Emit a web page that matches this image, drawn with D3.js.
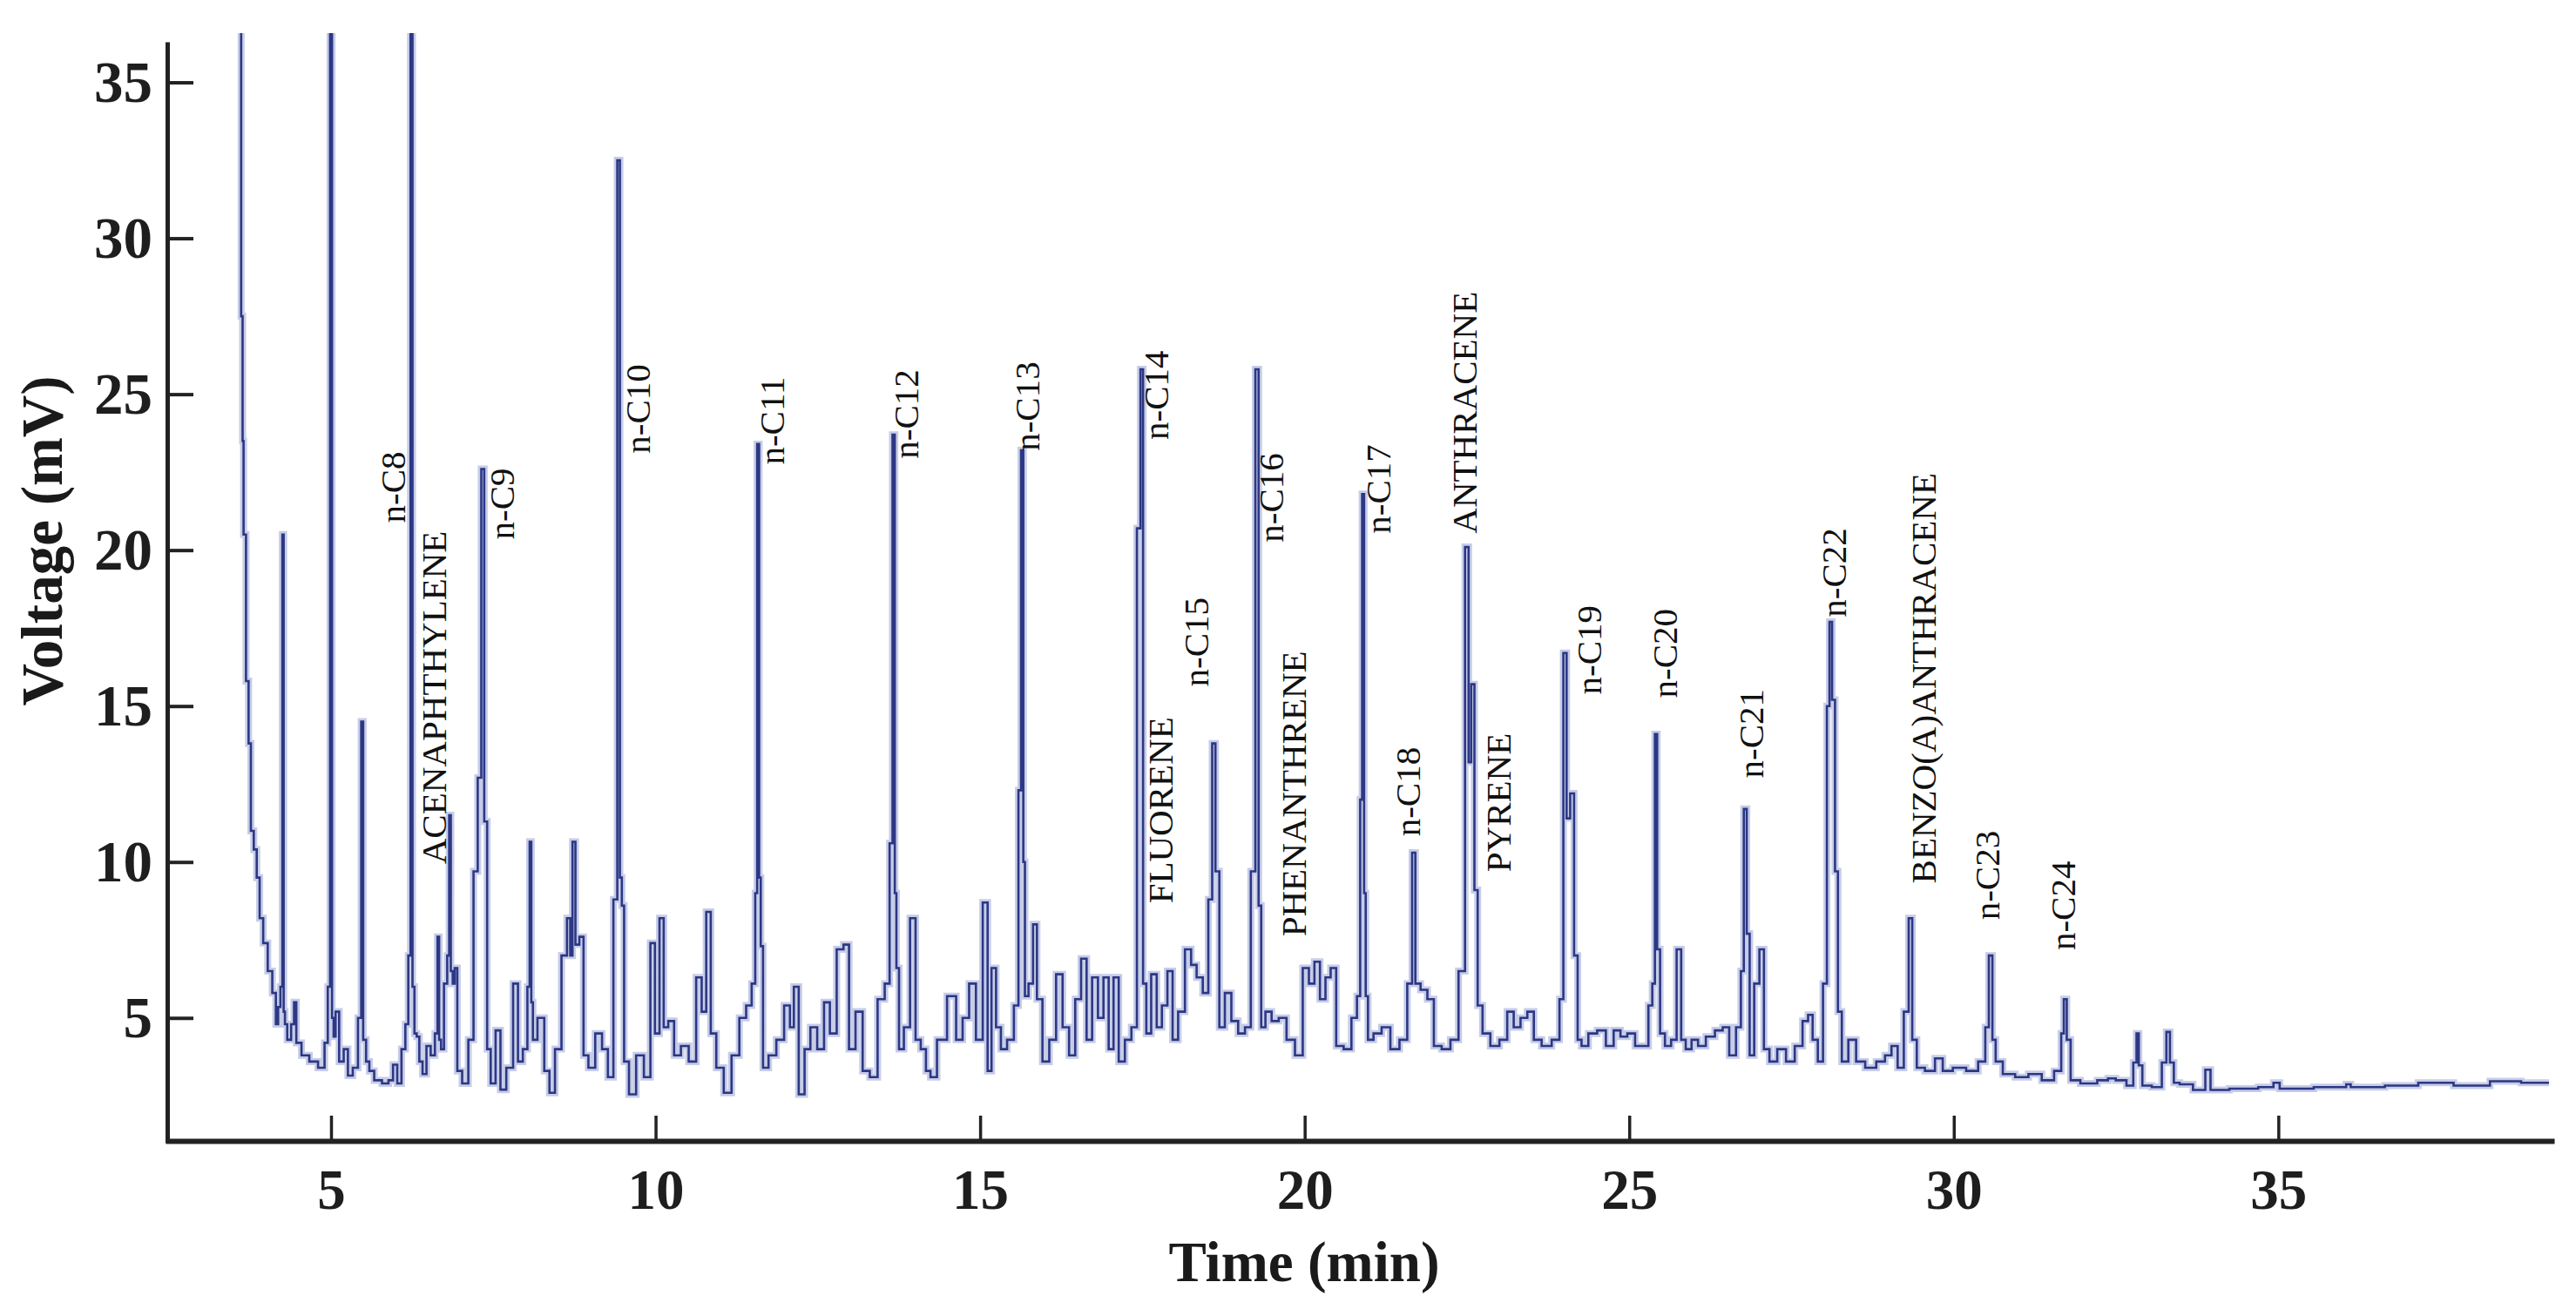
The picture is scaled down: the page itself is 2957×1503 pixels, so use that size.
<!DOCTYPE html>
<html><head><meta charset="utf-8">
<script src="https://cdn.jsdelivr.net/npm/d3@7/dist/d3.min.js"></script>
<style>html,body{margin:0;padding:0;background:#fff;}svg{display:block;}</style>
</head><body>
<svg id="chart" width="2957" height="1503"></svg>
<script>
// ---- data (time in min, voltage in mV; 40 = off scale) ----
const trace = [
[3.60,40],[3.63,27.5],[3.645,23.5],[3.66,20.5],[3.72,15.8],[3.74,13.8],[3.79,11.0],[3.83,10.4],[3.88,9.5],[3.92,8.2],[3.99,7.4],[4.06,6.5],[4.13,5.8],[4.17,4.8],[4.20,5.35],[4.24,6.0],[4.26,20.5],[4.28,5.2],[4.30,4.8],[4.35,4.3],[4.42,4.8],[4.44,5.5],[4.49,4.2],[4.60,3.8],[4.73,3.6],[4.87,3.4],[4.93,4.2],[4.97,6.0],[5.00,40],[5.03,5.0],[5.05,4.4],[5.09,5.2],[5.16,3.6],[5.23,4.0],[5.29,3.15],[5.38,3.4],[5.45,5.0],[5.48,14.5],[5.51,4.3],[5.57,3.6],[5.61,3.3],[5.72,3.0],[5.85,2.9],[5.92,3.0],[5.99,3.5],[6.05,2.9],[6.12,4.0],[6.17,4.8],[6.21,7.0],[6.24,40],[6.27,6.0],[6.30,4.5],[6.34,4.4],[6.38,3.6],[6.44,3.2],[6.50,4.1],[6.57,3.8],[6.63,4.5],[6.65,7.6],[6.68,4.3],[6.71,4.0],[6.77,6.1],[6.81,7.0],[6.83,11.5],[6.86,6.5],[6.89,6.1],[6.92,6.6],[6.97,3.3],[7.07,2.9],[7.16,4.3],[7.23,9.7],[7.29,12.7],[7.34,22.6],[7.38,11.3],[7.43,4.0],[7.49,2.9],[7.58,4.6],[7.64,2.7],[7.76,3.4],[7.85,6.1],[7.91,3.6],[8.00,4.0],[8.05,6.0],[8.07,10.65],[8.10,5.5],[8.12,4.3],[8.24,5.0],[8.33,3.3],[8.40,2.6],[8.50,4.0],[8.60,7.0],[8.67,8.2],[8.70,7.0],[8.74,10.65],[8.79,7.35],[8.86,7.6],[8.92,3.8],[9.01,3.4],[9.13,4.5],[9.22,4.0],[9.31,3.1],[9.39,8.8],[9.43,32.5],[9.47,9.5],[9.49,8.6],[9.54,3.6],[9.64,2.55],[9.76,3.8],[9.88,3.1],[9.96,7.4],[10.02,4.5],[10.10,8.2],[10.15,4.7],[10.24,4.9],[10.33,3.8],[10.45,4.1],[10.57,3.6],[10.68,6.3],[10.74,5.2],[10.82,8.4],[10.88,4.5],[10.99,3.4],[11.11,2.6],[11.23,3.8],[11.35,5.0],[11.44,5.4],[11.52,6.1],[11.55,9.0],[11.58,23.4],[11.61,9.5],[11.63,7.3],[11.68,3.4],[11.80,3.8],[11.92,4.3],[12.04,5.4],[12.10,4.7],[12.16,6.0],[12.25,2.55],[12.34,4.0],[12.43,4.7],[12.55,4.0],[12.64,5.5],[12.73,4.5],[12.85,7.2],[12.94,7.35],[13.02,4.0],[13.14,5.2],[13.24,3.3],[13.36,3.1],[13.48,5.6],[13.58,6.1],[13.63,10.6],[13.67,23.7],[13.70,9.0],[13.72,6.6],[13.78,4.0],[13.87,4.7],[13.97,8.2],[14.04,4.3],[14.13,4.0],[14.20,3.3],[14.27,3.1],[14.40,4.3],[14.58,5.7],[14.68,4.3],[14.78,5.0],[14.88,6.1],[14.99,4.3],[15.09,8.7],[15.14,3.3],[15.21,6.6],[15.28,4.7],[15.36,4.0],[15.47,4.3],[15.57,5.4],[15.61,12.3],[15.65,23.2],[15.68,10.0],[15.70,5.7],[15.79,6.1],[15.84,8.0],[15.91,5.6],[16.01,3.6],[16.12,4.3],[16.22,6.4],[16.32,4.7],[16.42,3.8],[16.51,5.6],[16.60,6.9],[16.68,4.3],[16.77,6.3],[16.86,5.0],[16.94,6.3],[17.02,4.0],[17.09,6.3],[17.18,3.6],[17.28,4.3],[17.38,4.7],[17.45,20.7],[17.49,25.8],[17.53,6.1],[17.59,4.5],[17.68,6.4],[17.76,4.7],[17.84,5.4],[17.93,6.5],[18.00,4.3],[18.10,5.2],[18.21,7.2],[18.29,6.7],[18.38,6.3],[18.48,5.8],[18.55,8.8],[18.60,13.8],[18.65,9.7],[18.72,4.7],[18.82,5.8],[18.92,4.9],[19.03,4.5],[19.13,4.7],[19.21,9.7],[19.27,25.8],[19.31,8.6],[19.35,4.7],[19.44,5.2],[19.54,4.9],[19.66,5.0],[19.78,4.3],[19.92,3.8],[20.02,6.6],[20.11,6.1],[20.19,6.8],[20.28,5.6],[20.36,6.3],[20.44,6.6],[20.53,4.1],[20.67,4.0],[20.77,5.0],[20.84,5.7],[20.87,12.0],[20.90,21.8],[20.93,9.0],[20.95,5.7],[21.00,4.3],[21.12,4.5],[21.25,4.7],[21.39,4.0],[21.53,4.3],[21.63,6.1],[21.68,10.3],[21.73,6.1],[21.84,5.9],[21.94,5.6],[22.04,4.1],[22.18,4.0],[22.31,4.3],[22.43,6.5],[22.51,20.1],[22.54,13.2],[22.59,15.7],[22.64,9.1],[22.69,5.4],[22.79,4.5],[22.93,4.1],[23.07,4.3],[23.17,5.2],[23.27,4.7],[23.38,5.0],[23.48,5.2],[23.58,4.3],[23.72,4.1],[23.89,4.3],[23.96,5.6],[24.01,16.7],[24.06,11.4],[24.12,12.2],[24.18,7.0],[24.23,4.3],[24.30,4.1],[24.44,4.5],[24.57,4.6],[24.71,4.1],[24.81,4.6],[24.92,4.4],[25.02,4.5],[25.16,4.1],[25.26,4.1],[25.33,5.4],[25.38,6.1],[25.41,14.1],[25.45,7.2],[25.50,4.5],[25.60,4.1],[25.69,4.3],[25.77,7.2],[25.83,4.3],[25.91,4.0],[26.01,4.3],[26.11,4.1],[26.25,4.4],[26.39,4.6],[26.49,4.7],[26.59,3.8],[26.70,4.7],[26.74,6.5],[26.79,11.7],[26.83,7.7],[26.88,3.8],[26.97,6.1],[27.04,7.2],[27.11,4.0],[27.21,3.6],[27.35,4.0],[27.48,3.6],[27.62,4.1],[27.72,4.9],[27.79,5.1],[27.86,4.3],[27.95,3.6],[28.02,6.1],[28.07,15.0],[28.10,17.7],[28.15,15.2],[28.19,9.7],[28.24,5.2],[28.31,3.6],[28.44,4.3],[28.55,3.6],[28.72,3.4],[28.89,3.6],[28.99,3.8],[29.09,4.1],[29.18,3.4],[29.28,5.2],[29.33,8.2],[29.39,4.3],[29.47,3.4],[29.64,3.3],[29.78,3.7],[29.88,3.3],[30.09,3.4],[30.29,3.3],[30.46,3.6],[30.51,4.7],[30.57,7.0],[30.62,4.3],[30.67,3.6],[30.84,3.2],[31.05,3.1],[31.25,3.2],[31.46,3.0],[31.63,3.3],[31.68,4.5],[31.71,5.6],[31.77,4.3],[31.83,3.0],[32.07,2.9],[32.35,3.0],[32.40,3.06],[32.59,3.0],[32.73,2.83],[32.80,3.57],[32.83,4.5],[32.87,3.48],[32.94,2.83],[33.16,2.78],[33.25,3.57],[33.30,4.55],[33.36,3.57],[33.42,2.92],[33.54,2.87],[33.83,2.69],[33.92,3.34],[33.99,2.69],[34.50,2.73],[34.88,2.78],[34.97,2.92],[35.07,2.73],[36.02,2.78],[36.07,2.87],[36.16,2.78],[37.12,2.83],[37.19,2.92],[38.21,2.83],[38.31,2.97],[39.17,2.92]
];

const labelNames = ["n-C8","ACENAPHTHYLENE","n-C9","n-C10","n-C11","n-C12","n-C13","n-C14","FLUORENE","n-C15","n-C16","PHENANTHRENE","n-C17","n-C18","ANTHRACENE","PYRENE","n-C19","n-C20","n-C21","n-C22","BENZO(A)ANTHRACENE","n-C23","n-C24"];
const labelTimes = [6.14,6.77,7.82,9.91,11.98,14.05,15.91,17.90,17.97,18.52,19.67,20.02,21.32,21.77,22.65,23.17,24.57,25.74,27.07,28.34,29.72,30.70,31.87];
const labelVoltages = [20.87,9.93,20.34,23.1,22.74,22.93,23.18,23.54,8.67,15.62,20.25,7.61,20.53,10.82,20.53,9.68,15.37,15.26,12.69,17.85,9.31,8.14,7.17];

const xTicks = [5,10,15,20,25,30,35];
const yTicks = [5,10,15,20,25,30,35];
const xTitle = "Time (min)";
const yTitle = "Voltage (mV)";

// ---- drawing ----
const svg = d3.select("#chart");
const serif = "'Liberation Serif','Times New Roman',serif";

const x = d3.scaleLinear().domain([2.45, 39.25]).range([190, 2932]);
const y = d3.scaleLinear().domain([1, 36.3]).range([1312, 48]);

svg.append("rect").attr("width",2957).attr("height",1503).attr("fill","#fff");

svg.append("defs").append("clipPath").attr("id","plotclip")
  .append("rect").attr("x",192).attr("y",38).attr("width",2745).attr("height",1272);

const line = d3.line().x(d=>x(d[0])).y(d=>y(d[1])).curve(d3.curveStep);
const g = svg.append("g").attr("clip-path","url(#plotclip)");
g.append("path").datum(trace).attr("d",line)
  .attr("fill","none").attr("stroke","#8f9cd0").attr("stroke-width",8)
  .attr("stroke-opacity",0.5).attr("stroke-linejoin","miter");
g.append("path").datum(trace).attr("d",line)
  .attr("fill","none").attr("stroke","#2c3785").attr("stroke-width",2.6)
  .attr("stroke-linejoin","miter");

// y axis
const yAxis = svg.append("g").attr("transform","translate(192,0)")
  .call(d3.axisLeft(y).tickValues(yTicks).tickSizeInner(-30).tickSizeOuter(0).tickPadding(17));
yAxis.select(".domain").attr("stroke","#222").attr("stroke-width",5);
yAxis.selectAll(".tick line").attr("stroke","#222").attr("stroke-width",4);
yAxis.selectAll(".tick text").attr("font-family",serif).attr("font-weight","bold")
  .attr("font-size",67).attr("fill","#1e1e1e");

// x axis
const xAxis = svg.append("g").attr("transform","translate(0,1310)")
  .call(d3.axisBottom(x).tickValues(xTicks).tickSizeInner(-29).tickSizeOuter(0).tickPadding(32));
xAxis.select(".domain").attr("stroke","#222").attr("stroke-width",6);
xAxis.selectAll(".tick line").attr("stroke","#222").attr("stroke-width",3.5);
xAxis.selectAll(".tick text").attr("font-family",serif).attr("font-weight","bold")
  .attr("font-size",65).attr("fill","#1e1e1e");

// titles
svg.append("text").attr("x",1497).attr("y",1471).attr("text-anchor","middle")
  .attr("font-family",serif).attr("font-weight","bold").attr("font-size",65).attr("fill","#1a1a1a")
  .text(xTitle);
svg.append("text").attr("transform","translate(71,621) rotate(-90)").attr("text-anchor","middle")
  .attr("font-family",serif).attr("font-weight","bold").attr("font-size",67).attr("fill","#1a1a1a")
  .text(yTitle);

// peak labels
const labels = labelNames.map((n,i)=>({name:n,t:labelTimes[i],v:labelVoltages[i]}));
svg.append("g").selectAll("text").data(labels).join("text")
  .attr("transform",d=>`translate(${x(d.t)},${y(d.v)}) rotate(-90)`)
  .attr("text-anchor","start")
  .attr("font-family",serif).attr("font-size",41).attr("fill","#111")
  .text(d=>d.name);
</script>
</body></html>
